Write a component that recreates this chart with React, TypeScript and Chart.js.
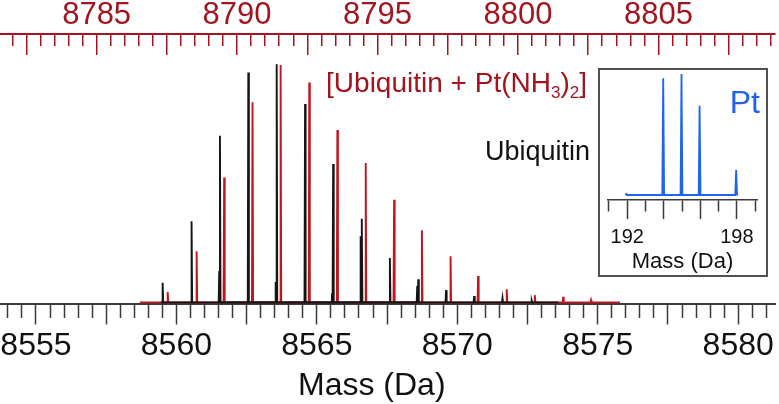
import React, { useEffect, useRef } from 'react';
import { Chart, registerables } from 'chart.js';

Chart.register(...registerables);

const FONT = '"Liberation Sans", Arial, Helvetica, sans-serif';

// ---- Data ----
// Ubiquitin isotope peaks: mass (Da, bottom axis) and relative intensity
const ubiMass = [8559.51, 8560.54, 8561.55, 8562.56, 8563.57, 8564.58, 8565.58, 8566.6, 8567.6, 8568.61, 8569.6, 8570.6, 8571.61, 8572.65];
const ubiInt = [8.3, 34.1, 70.0, 96.5, 100, 83.3, 58.1, 35.2, 18.7, 9.8, 5.2, 2.7, 1.9, 0.8];
// small shoulder peaks in the Ubiquitin trace
const ubiShoulderMass = [8561.525, 8563.533, 8565.548, 8566.559, 8568.574];
const ubiShoulderInt = [13.2, 8.6, 4.0, 27.8, 6.9];
const ubiTraceRange = [8559.45, 8573.6];

// [Ubiquitin + Pt(NH3)2] peaks: mass (Da, top axis) and relative intensity
const adductMass = [8787.53, 8788.56, 8789.54, 8790.55, 8791.55, 8792.57, 8793.57, 8794.58, 8795.59, 8796.58, 8797.6, 8798.58, 8799.6, 8800.6, 8801.61, 8802.6];
const adductInt = [4.4, 21.5, 52.5, 84.1, 99.7, 92.3, 72.4, 58.6, 43.1, 30.3, 19.4, 11.1, 5.6, 3.1, 2.4, 1.0];
const adductTraceRange = [8786.54, 8803.63];

// Pt isotope pattern (inset)
const ptMass = [191.96, 193.97, 194.97, 195.96, 197.96];
const ptInt = [0.3, 32.6, 33.8, 24.9, 7.0];
const ptTraceRange = [191.9, 198.0];

// Axis ranges
const bottomRange = [8553.72, 8581.31];
const topRange = [8781.56, 8809.15];
const insetRange = [190.95, 199.1];
const yRange = [-0.4, 112.9];
const insetYRange = [-1.4, 34.36];

// Colours
const AXIS_GRAY = '#3a3a3a';
const TRACE_BLACK = '#151515';
const AXIS_RED = '#a3141f';
const TRACE_RED = '#c4141f';
const BLUE = '#1f63f0';

function spikes(mass: number[], inten: number[], halfWidth: number, range?: number[]) {
  const pts: { x: number; y: number }[] = [];
  if (range) pts.push({ x: range[0], y: 0 });
  mass.forEach((m, i) => {
    pts.push({ x: m - halfWidth, y: 0 }, { x: m, y: inten[i] }, { x: m + halfWidth, y: 0 });
  });
  if (range) pts.push({ x: range[1], y: 0 });
  return pts;
}

const isMult = (v: number, s: number) => Math.abs(v / s - Math.round(v / s)) < 1e-6;

export default function App() {
  const mainRef = useRef<HTMLCanvasElement>(null);
  const insetRef = useRef<HTMLCanvasElement>(null);

  useEffect(() => {
    const main = new Chart(mainRef.current!, {
      type: 'line',
      data: {
        datasets: [
          {
            label: 'Ubiquitin',
            data: spikes(ubiMass, ubiInt, 0.02, ubiTraceRange),
            xAxisID: 'x',
            yAxisID: 'y',
            borderColor: TRACE_BLACK,
            borderWidth: 1.9,
            pointRadius: 0,
            tension: 0,
            order: 0,
          },
          {
            label: 'Ubiquitin shoulders',
            data: spikes(ubiShoulderMass, ubiShoulderInt, 0.02),
            xAxisID: 'x',
            yAxisID: 'y',
            borderColor: TRACE_BLACK,
            borderWidth: 1.9,
            pointRadius: 0,
            tension: 0,
            order: 1,
          },
          {
            label: '[Ubiquitin + Pt(NH3)2]',
            data: spikes(adductMass, adductInt, 0.02, adductTraceRange),
            xAxisID: 'xTop',
            yAxisID: 'y',
            borderColor: TRACE_RED,
            borderWidth: 1.9,
            pointRadius: 0,
            tension: 0,
            order: 2,
          },
        ],
      },
      options: {
        responsive: false,
        animation: false,
        events: [],
        layout: { padding: { left: 0, right: 4, top: -2.5, bottom: 36.5 } },
        plugins: { legend: { display: false }, tooltip: { enabled: false } },
        scales: {
          x: {
            type: 'linear',
            position: 'bottom',
            min: bottomRange[0],
            max: bottomRange[1],
            border: { display: true, color: AXIS_GRAY, width: 2 },
            grid: {
              display: true,
              drawOnChartArea: false,
              drawTicks: true,
              tickLength: 21,
              tickWidth: 1.5,
              tickColor: AXIS_GRAY,
              tickBorderDash: (ctx: any) => (ctx.tick && !isMult(ctx.tick.value, 2.5) ? [13, 100] : []),
            },
            ticks: {
              stepSize: 0.5,
              autoSkip: false,
              includeBounds: false,
              maxRotation: 0,
              minRotation: 0,
              padding: 5.5,
              color: '#111111',
              font: { family: FONT, size: 32, lineHeight: 1 },
              callback: (v: any) => (isMult(Number(v), 5) ? String(Math.round(Number(v))) : ''),
            },
          },
          xTop: {
            type: 'linear',
            position: 'top',
            min: topRange[0],
            max: topRange[1],
            border: {
              display: true,
              color: AXIS_RED,
              width: 2,
              dash: (ctx: any) => (ctx.tick ? (isMult(ctx.tick.value, 2.5) ? [20, 1000] : [11, 1000]) : []),
            },
            grid: {
              display: true,
              drawOnChartArea: true,
              drawTicks: false,
              color: AXIS_RED,
              lineWidth: 1.5,
            },
            ticks: {
              stepSize: 0.5,
              autoSkip: false,
              includeBounds: false,
              maxRotation: 0,
              minRotation: 0,
              padding: 2.5,
              color: AXIS_RED,
              font: { family: FONT, size: 31, lineHeight: 1 },
              callback: (v: any) => (isMult(Number(v), 5) ? String(Math.round(Number(v))) : ''),
            },
          },
          y: {
            type: 'linear',
            display: false,
            min: yRange[0],
            max: yRange[1],
          },
        },
      },
    } as any);

    const inset = new Chart(insetRef.current!, {
      type: 'line',
      data: {
        datasets: [
          {
            label: 'Pt',
            data: spikes(ptMass, ptInt, 0.05, ptTraceRange),
            borderColor: BLUE,
            borderWidth: 1.8,
            pointRadius: 0,
            tension: 0,
          },
        ],
      },
      options: {
        responsive: false,
        animation: false,
        events: [],
        layout: { padding: { left: 8, right: 9, top: 2, bottom: 0 } },
        plugins: { legend: { display: false }, tooltip: { enabled: false } },
        scales: {
          x: {
            type: 'linear',
            position: 'bottom',
            min: insetRange[0],
            max: insetRange[1],
            border: { display: true, color: AXIS_GRAY, width: 1.5 },
            grid: {
              display: true,
              drawOnChartArea: false,
              drawTicks: true,
              tickLength: 19,
              tickWidth: 1.5,
              tickColor: AXIS_GRAY,
              tickBorderDash: (ctx: any) => (ctx.tick && !isMult(ctx.tick.value, 2) ? [11, 100] : []),
            },
            ticks: {
              stepSize: 1,
              autoSkip: false,
              includeBounds: false,
              maxRotation: 0,
              minRotation: 0,
              padding: 8.8,
              color: '#111111',
              font: { family: FONT, size: 20, lineHeight: 1 },
              callback: (v: any) => (Number(v) === 192 || Number(v) === 198 ? String(v) : ''),
            },
            title: {
              display: true,
              text: 'Mass (Da)',
              color: '#111111',
              font: { family: FONT, size: 22, lineHeight: 1 },
              padding: { top: -5.9, bottom: 2.3 },
            },
          },
          y: {
            type: 'linear',
            display: false,
            min: insetYRange[0],
            max: insetYRange[1],
          },
        },
      },
    } as any);

    return () => {
      main.destroy();
      inset.destroy();
    };
  }, []);

  const textBase: React.CSSProperties = {
    position: 'absolute',
    whiteSpace: 'nowrap',
    fontFamily: FONT,
  };

  return (
    <div
      style={{
        position: 'absolute',
        left: 0,
        top: 0,
        width: 779,
        height: 404,
        background: '#ffffff',
        overflow: 'hidden',
        fontFamily: FONT,
      }}
    >
      <canvas ref={mainRef} width={779} height={404} style={{ position: 'absolute', left: 0, top: 0, display: 'block' }} />

      <div style={{ ...textBase, top: 69, right: 192, fontSize: 28, lineHeight: '28px', color: AXIS_RED }}>
        [Ubiquitin + Pt(NH
        <span style={{ fontSize: 17, position: 'relative', top: 6 }}>3</span>)
        <span style={{ fontSize: 17, position: 'relative', top: 6 }}>2</span>]
      </div>

      <div style={{ ...textBase, top: 138, right: 189, fontSize: 27, lineHeight: '27px', color: '#111111' }}>Ubiquitin</div>

      <div style={{ ...textBase, top: 368, left: 298, fontSize: 32, lineHeight: '32px', color: '#111111' }}>Mass (Da)</div>

      <div
        style={{
          position: 'absolute',
          left: 598,
          top: 68,
          width: 170,
          height: 209,
          boxSizing: 'border-box',
          border: '2px solid #505050',
          background: '#ffffff',
        }}
      >
        <canvas ref={insetRef} width={166} height={205} style={{ position: 'absolute', left: 0, top: 0, display: 'block' }} />
      </div>

      <div style={{ ...textBase, top: 86, right: 19, fontSize: 32, lineHeight: '32px', color: BLUE }}>Pt</div>
    </div>
  );
}
